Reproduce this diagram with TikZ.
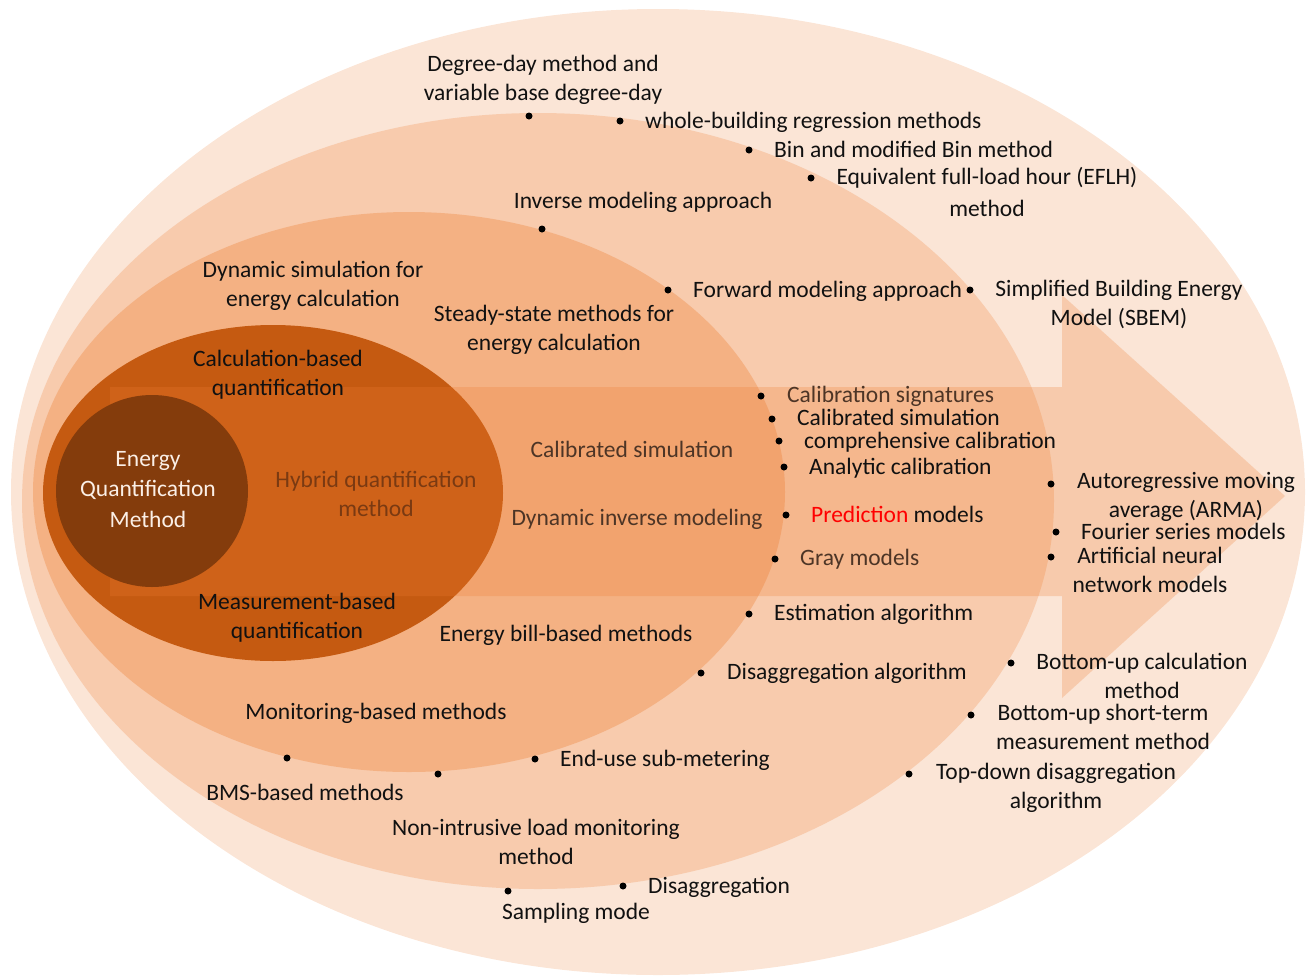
\documentclass[tikz,border=0pt]{standalone}
\usepackage{fontspec}
\setmainfont{Carlito}
\definecolor{c1}{HTML}{FBE5D6}
\definecolor{c2}{HTML}{F8CBAD}
\definecolor{c3}{HTML}{F4B183}
\definecolor{c4}{HTML}{C55A11}
\definecolor{c5}{HTML}{843C0C}
\definecolor{arrowc}{HTML}{ED7D31}
\definecolor{txt}{HTML}{111111}
\definecolor{dimA}{HTML}{7A3A12}
\definecolor{dimB}{HTML}{4D3526}
\definecolor{cream}{HTML}{FBEFE6}
\tikzset{
  lbl/.style={font=\fontsize{23.5}{28.7}\selectfont, inner sep=0pt, text=txt},
  lft/.style={lbl, anchor=base west},
  ctr/.style={lbl, anchor=base, align=center},
  bul/.style={circle, fill=black, inner sep=0pt, minimum size=7pt},
}
\begin{document}
\begin{tikzpicture}[x=1pt,y=-1pt]
\useasboundingbox (0,0) rectangle (1307,978);
% nested ellipses
\fill[c1] (658,492) ellipse [x radius=647pt, y radius=483pt];
\fill[c2] (538,501) ellipse [x radius=516pt, y radius=388pt];
\fill[c3] (409,492) ellipse [x radius=376pt, y radius=280pt];
\fill[c4] (273,493) ellipse [x radius=230pt, y radius=168pt];
% big arrow
\fill[arrowc, opacity=.25] (110,387) -- (1062,387) -- (1062,295) -- (1285,496)
  -- (1062,698) -- (1062,596) -- (110,596) -- cycle;
\fill[c5] (152,491) circle [radius=96pt];

% centre (anchor base = baseline of the last line)
\node[ctr, text=cream] (eqm) at (148,527) {Energy\\[1.5pt]Quantification\\[1.5pt]Method};
\node[ctr] (calc) at (278,395) {Calculation-based\\quantification};
\node[ctr, text=dimA] (hyb) at (376,516) {Hybrid quantification\\method};
\node[ctr] (meas) at (297,638) {Measurement-based\\quantification};

% calculation branch
\node[ctr] (dyn) at (313,306) {Dynamic simulation for\\energy calculation};
\node[ctr] (ss) at (554,350) {Steady-state methods for\\energy calculation};
\node[ctr] (inv) at (643,208) {Inverse modeling approach};
\node[bul] (b5) at (542,229) {};
\node[bul] (b6) at (668,290) {};
\node[lft] (fwd) at (693,297) {Forward modeling approach};
\node[bul] (b7) at (970,290) {};
\node[ctr] (sbem) at (1119,325) {Simplified Building Energy\\Model (SBEM)};
\node[ctr] (dd) at (543,100) {Degree-day method and\\variable base degree-day};
\node[bul] (b1) at (529,116) {};
\node[bul] (b2) at (620,121) {};
\node[lft] (wb) at (645,128) {whole-building regression methods};
\node[bul] (b3) at (749,150) {};
\node[lft] (bin) at (774,157) {Bin and modified Bin method};
\node[bul] (b4) at (811,178) {};
\node[ctr] (eflh) at (987,216) {Equivalent full-load hour (EFLH)\\[2.5pt]method};

% hybrid branch
\node[ctr, text=dimB] (cs) at (632,457) {Calibrated simulation};
\node[ctr, text=dimB] (dim) at (637,525) {Dynamic inverse modeling};
\node[bul] (b8) at (761,396) {};
\node[lft, text=dimB] (csig) at (787,402) {Calibration signatures};
\node[bul] (b9) at (772,419) {};
\node[lft] (csim) at (797,425) {Calibrated simulation};
\node[bul] (b10) at (779,441) {};
\node[lft] (comp) at (804,448) {comprehensive calibration};
\node[bul] (b11) at (784,467) {};
\node[lft] (ana) at (809,474) {Analytic calibration};
\node[bul] (b12) at (786,515) {};
\node[lft] (pred) at (811,522) {\textcolor{red}{Prediction} models};
\node[bul] (b13) at (775,559) {};
\node[lft, text=dimB] (gray) at (800,565) {Gray models};
\node[bul] (b14) at (1051,484) {};
\node[ctr] (arma) at (1186,517) {Autoregressive moving\\average (ARMA)};
\node[bul] (b15) at (1056,532) {};
\node[lft] (four) at (1081,539) {Fourier series models};
\node[bul] (b16) at (1051,557) {};
\node[ctr] (ann) at (1150,592) {Artificial neural\\network models};

% measurement branch
\node[ctr] (bill) at (566,641) {Energy bill-based methods};
\node[bul] (b17) at (749,614) {};
\node[lft] (est) at (774,620) {Estimation algorithm};
\node[bul] (b18) at (701,673) {};
\node[lft] (dis) at (727,679) {Disaggregation algorithm};
\node[bul] (b19) at (1011,663) {};
\node[ctr] (buc) at (1142,698) {Bottom-up calculation\\method};
\node[bul] (b20) at (971,715) {};
\node[ctr] (bus) at (1103,749) {Bottom-up short-term\\measurement method};
\node[bul] (b21) at (909,774) {};
\node[ctr] (td) at (1056,808) {Top-down disaggregation\\algorithm};
\node[ctr] (mon) at (376,719) {Monitoring-based methods};
\node[bul] (b22) at (287,758) {};
\node[ctr] (bms) at (305,800) {BMS-based methods};
\node[bul] (b23) at (438,774) {};
\node[bul] (b24) at (535,759) {};
\node[lft] (eu) at (560,766) {End-use sub-metering};
\node[ctr] (nilm) at (536,864) {Non-intrusive load monitoring\\method};
\node[bul] (b25) at (508,891) {};
\node[ctr] (samp) at (576,919) {Sampling mode};
\node[bul] (b26) at (623,886) {};
\node[lft] (disg) at (648,893) {Disaggregation};
\end{tikzpicture}
\end{document}
